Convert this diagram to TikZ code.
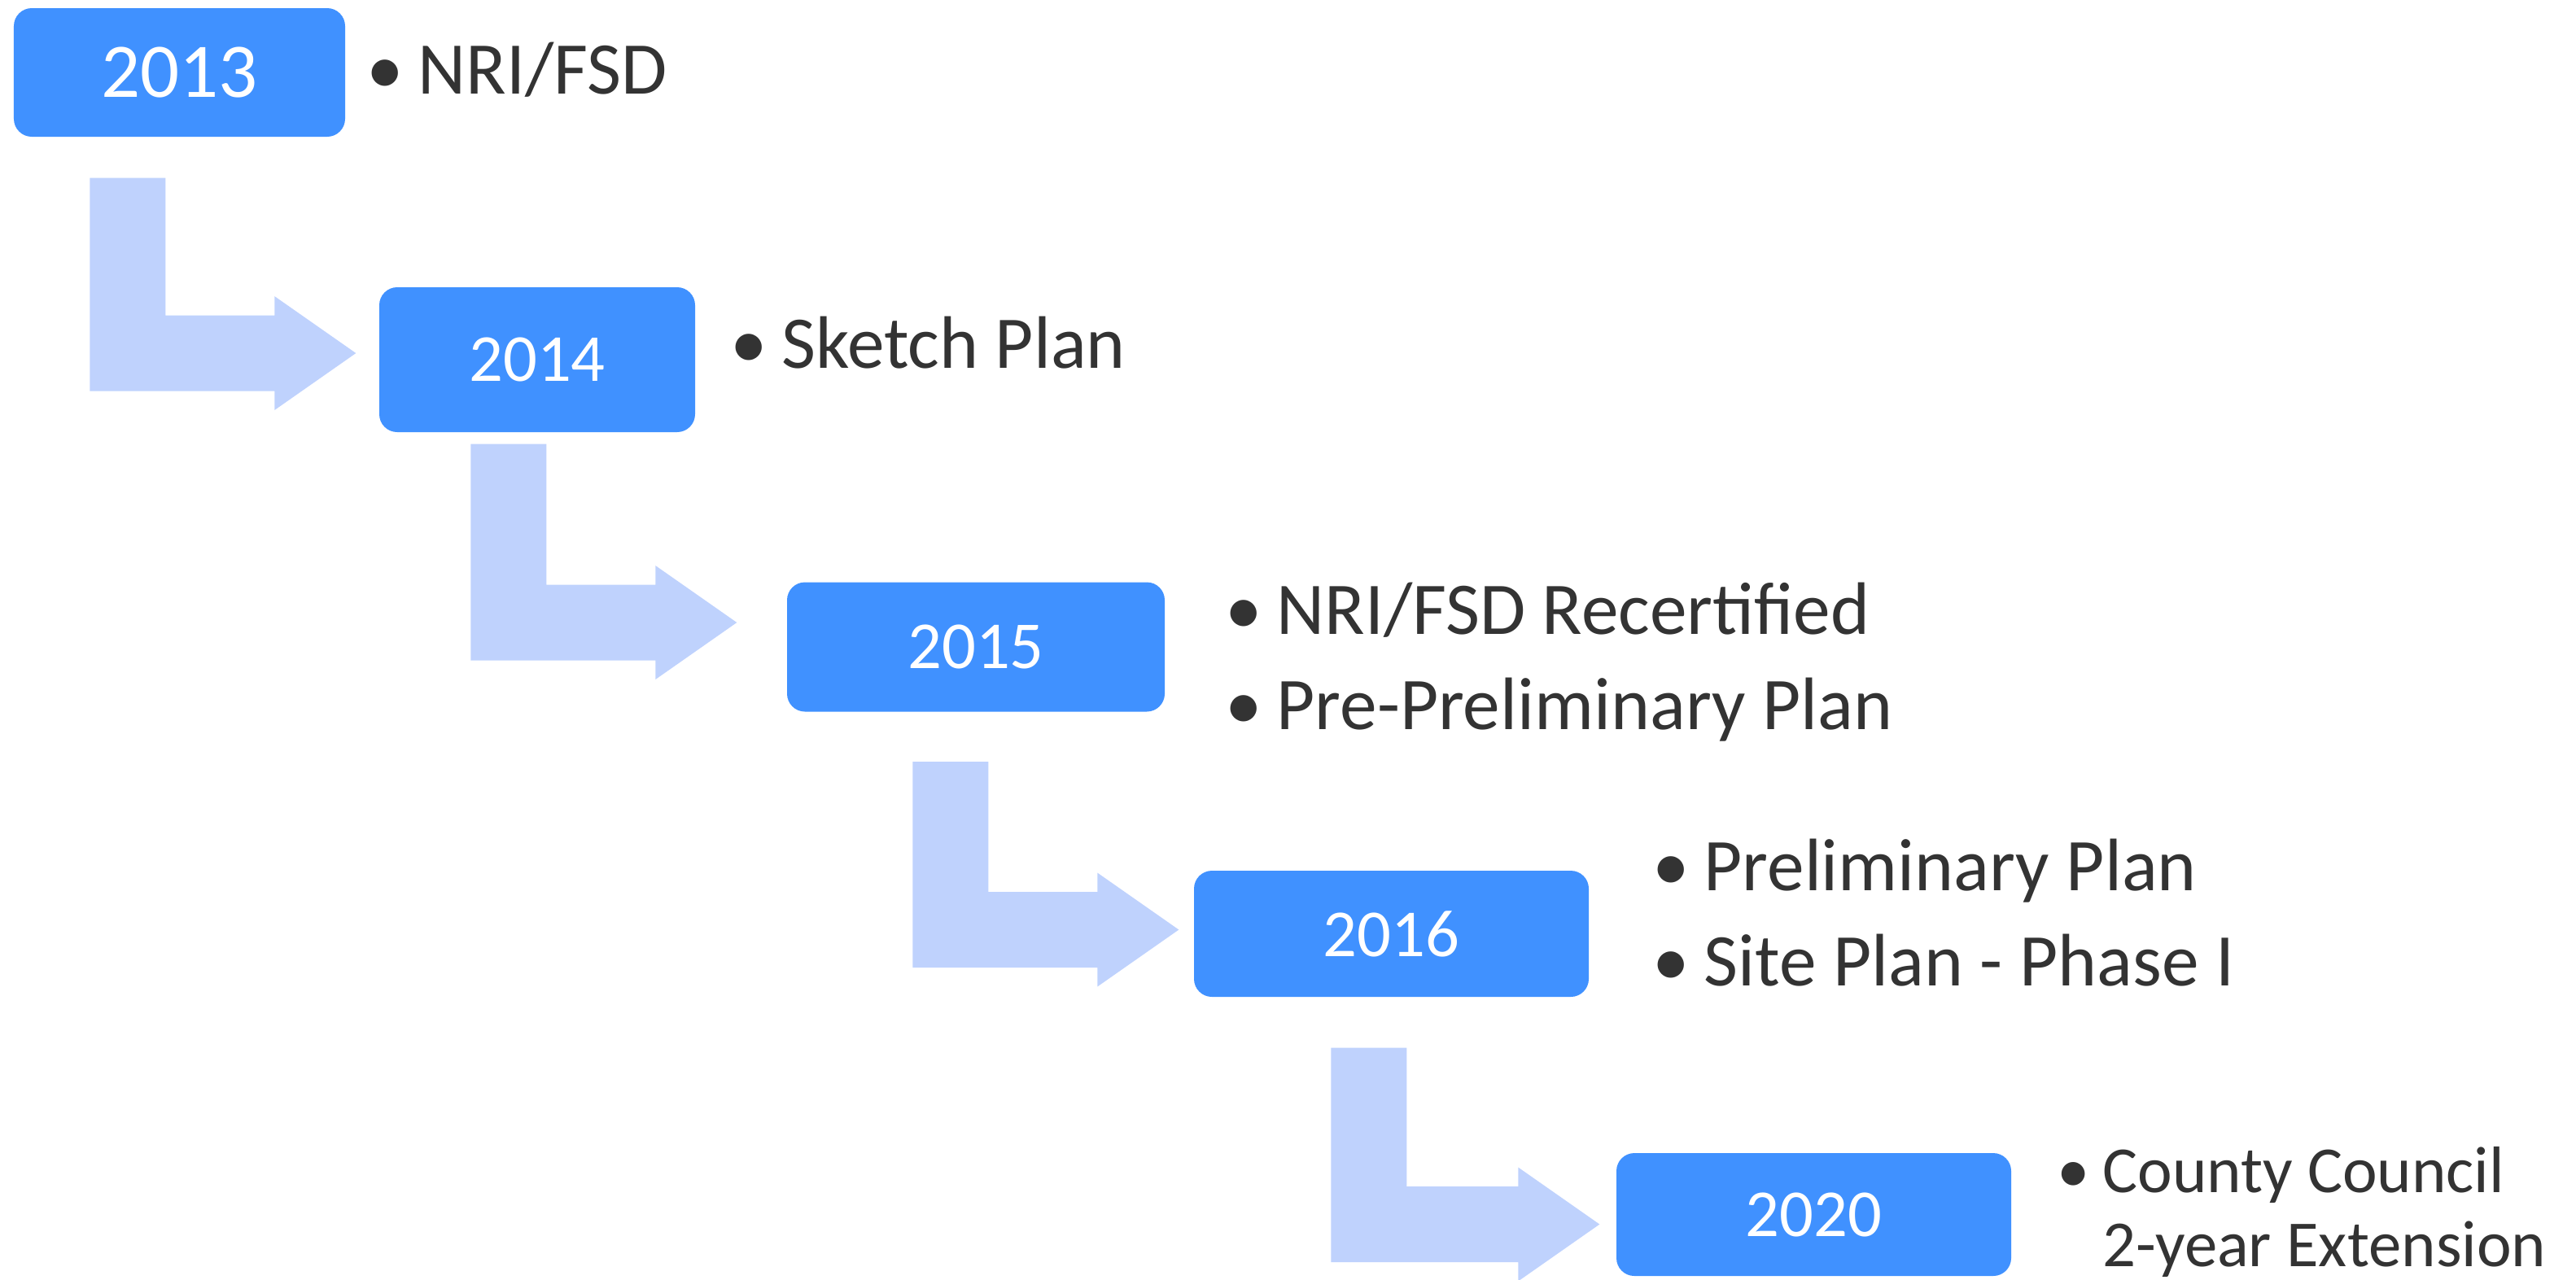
\documentclass[tikz,border=0pt]{standalone}
\usepackage{fontspec}
\setmainfont{Carlito}
\usetikzlibrary{calc}

\definecolor{yearblue}{RGB}{64,145,255}
\definecolor{flowblue}{RGB}{191,210,253}
\definecolor{itemgray}{RGB}{51,51,51}

\newcommand{\itembullet}{\textbullet\hspace{0.19em}}

% bent arrow: #1 = top left corner of the stem, #2 = tip of the head
\newcommand{\steparrow}[2]{%
  \fill[flowblue] let \p1=#1, \p2=#2 in
    (\x1,\y1) -- (\x1+0.93cm,\y1) -- (\x1+0.93cm,\y2+0.465cm) -- (\x2-1cm,\y2+0.465cm)
    -- (\x2-1cm,\y2+0.7cm) -- (\x2,\y2) -- (\x2-1cm,\y2-0.7cm) -- (\x2-1cm,\y2-0.465cm)
    -- (\x1,\y2-0.465cm) -- cycle;}

\begin{document}
\begin{tikzpicture}[
year/.style={fill=yearblue, rounded corners=0.22cm, text=white, inner sep=0pt, font=\fontsize{23.5}{28}\selectfont},
item/.style={anchor=base west, text=itemgray, inner sep=0pt, font=\fontsize{26}{33}\selectfont}]

\useasboundingbox (0,0) rectangle (31.65,-15.72);

% years
\node[year, minimum width=4.07cm, minimum height=1.58cm, font=\fontsize{27}{32}\selectfont] (y13) at (2.205,-0.89) {2013};
\node[year, minimum width=3.88cm, minimum height=1.78cm] (y14) at (6.60,-4.42) {2014};
\node[year, minimum width=4.64cm, minimum height=1.59cm] (y15) at (11.99,-7.95) {2015};
\node[year, minimum width=4.85cm, minimum height=1.55cm] (y16) at (17.095,-11.475) {2016};
\node[year, minimum width=4.85cm, minimum height=1.51cm] (y20) at (22.285,-14.925) {2020};

% milestones
\node[item] (i13)  at (4.50,-1.15)  {\itembullet NRI/FSD};
\node[item] (i14)  at (8.97,-4.52)  {\itembullet Sketch Plan};
\node[item] (i15a) at (15.05,-7.79) {\itembullet NRI/FSD Recertified};
\node[item] (i15b) at (15.05,-8.96) {\itembullet Pre-Preliminary Plan};
\node[item] (i16a) at (20.30,-10.94) {\itembullet Preliminary Plan};
\node[item] (i16b) at (20.30,-12.11) {\itembullet Site Plan - Phase I};
\node[item, font=\fontsize{23}{25.9}\selectfont] (i20) at (25.27,-14.65)
  {\itembullet\begin{tabular}[t]{@{}l@{}}County Council\\2-year Extension\end{tabular}};

% arrows between the years
\steparrow{($(y13.south west)+(0.94,-0.50)$)}{($(y14.west)+(-0.28,0.08)$)}
\steparrow{($(y14.south west)+(1.13,-0.14)$)}{($(y15.west)+(-0.61,0.30)$)}
\steparrow{($(y15.south west)+(1.55,-0.61)$)}{($(y16.west)+(-0.18,0.05)$)}
\steparrow{($(y16.south west)+(1.69,-0.62)$)}{($(y20.west)+(-0.20,-0.12)$)}

\end{tikzpicture}
\end{document}
